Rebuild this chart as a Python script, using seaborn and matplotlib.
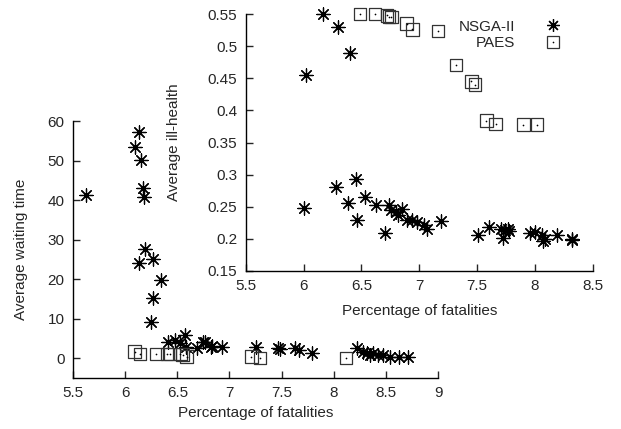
import numpy as np
import pandas as pd
import seaborn as sns
import matplotlib
matplotlib.use("Agg")
from matplotlib import pyplot as plt
from matplotlib.lines import Line2D

# main plot: fatalities vs waiting time
nsga_fat = [5.62, 6.13, 6.09, 6.15, 6.17, 6.18, 6.19, 6.13, 6.27, 6.34, 6.27, 6.25,
            6.41, 6.48, 6.53, 6.57, 6.58, 6.69, 6.77, 6.82, 6.93, 6.75, 6.83,
            7.25, 7.47, 7.48, 7.63, 7.67, 7.79, 8.22, 8.28, 8.32, 8.35, 8.38,
            8.42, 8.47, 8.54, 8.63, 8.71]
nsga_wait = [41.3, 57.1, 53.5, 50.1, 43.0, 40.9, 27.6, 24.0, 25.0, 19.8, 15.2, 9.2,
             4.2, 4.6, 3.9, 5.9, 2.9, 2.5, 4.2, 2.9, 2.9, 4.2, 3.1,
             2.9, 2.5, 2.3, 2.5, 2.1, 1.3, 2.7, 1.7, 1.3, 0.9, 1.3,
             0.7, 0.7, 0.4, 0.4, 0.4]
paes_fat = [6.09, 6.14, 6.30, 6.40, 6.43, 6.53, 6.55, 6.59, 7.21, 7.29, 8.12]
paes_wait = [1.7, 1.1, 1.1, 1.1, 1.1, 1.1, 0.9, 0.4, 0.4, 0.0, 0.0]

# inset: fatalities vs ill-health
nsga_fat2 = [6.17, 6.30, 6.40, 6.02, 6.00, 6.28, 6.45, 6.38, 6.53, 6.46, 6.70,
             6.63, 6.74, 6.76, 6.80, 6.85, 6.82, 6.89, 6.94, 6.98, 7.04, 7.07,
             7.19, 7.51, 7.60, 7.71, 7.72, 7.74, 7.77, 7.78, 7.96, 8.00, 8.06,
             8.07, 8.09, 8.19, 8.32, 8.32]
nsga_ill = [0.550, 0.530, 0.490, 0.455, 0.248, 0.280, 0.293, 0.256, 0.265, 0.230, 0.209,
            0.253, 0.253, 0.245, 0.242, 0.246, 0.237, 0.230, 0.230, 0.227, 0.222, 0.216,
            0.228, 0.206, 0.218, 0.216, 0.202, 0.214, 0.216, 0.212, 0.209, 0.210, 0.206,
            0.196, 0.200, 0.206, 0.199, 0.200]
paes_fat2 = [6.49, 6.62, 6.72, 6.74, 6.76, 6.89, 6.94, 7.16, 7.32, 7.45, 7.48,
             7.58, 7.66, 7.90, 8.02]
paes_ill = [0.550, 0.550, 0.548, 0.546, 0.545, 0.535, 0.526, 0.524, 0.471, 0.445, 0.440,
            0.384, 0.379, 0.378, 0.378]

sns.set_style("ticks")
plt.rcParams["font.family"] = ["Liberation Sans", "DejaVu Sans"]
plt.rcParams["font.size"] = 11

star = (8, 2, 0)


def draw(ax, xn, yn, xp, yp):
    sns.scatterplot(x=xn, y=yn, ax=ax, marker=star, s=90, color="black",
                    linewidth=0.9, zorder=3, clip_on=False)
    sns.scatterplot(x=xp, y=yp, ax=ax, marker="s", s=80, facecolors="none",
                    edgecolors="#333333", linewidth=0.9, zorder=3, clip_on=False)
    sns.scatterplot(x=xp, y=yp, ax=ax, marker="o", s=1.5, color="black",
                    linewidth=0, zorder=4, clip_on=False)
    ax.tick_params(direction="in", length=5, width=1, pad=6, labelsize=11)
    for side in ["left", "bottom"]:
        ax.spines[side].set_linewidth(1)
        ax.spines[side].set_color("black")
    sns.despine(ax=ax)


fig = plt.figure(figsize=(6.21, 4.29), dpi=100)

ax = fig.add_axes([0.1176, 0.1189, 0.5878, 0.599])
draw(ax, nsga_fat, nsga_wait, paes_fat, paes_wait)
ax.set_xlim(5.5, 9)
ax.set_ylim(-5, 60)
ax.set_xticks(np.arange(5.5, 9.01, 0.5))
ax.set_xticklabels(["5.5", "6", "6.5", "7", "7.5", "8", "8.5", "9"])
ax.set_yticks(range(0, 61, 10))
ax.set_xlabel("Percentage of fatalities", fontsize=11, labelpad=4)
ax.set_ylabel("Average waiting time", fontsize=11, labelpad=14)

ins = fig.add_axes([0.3957, 0.3683, 0.5588, 0.599])
draw(ins, nsga_fat2, nsga_ill, paes_fat2, paes_ill)
ins.set_xlim(5.5, 8.5)
ins.set_ylim(0.15, 0.55)
ins.set_xticks(np.arange(5.5, 8.51, 0.5))
ins.set_xticklabels(["5.5", "6", "6.5", "7", "7.5", "8", "8.5"])
ins.set_yticks(np.arange(0.15, 0.551, 0.05))
ins.set_yticklabels(["0.15", "0.2", "0.25", "0.3", "0.35", "0.4", "0.45", "0.5", "0.55"])
ins.set_xlabel("Percentage of fatalities", fontsize=11, labelpad=8)
ins.set_ylabel("Average ill-health", fontsize=11, labelpad=19)

h_nsga = Line2D([], [], ls="none", marker=star, ms=9, color="black", mew=0.9)
h_sq = Line2D([], [], ls="none", marker="s", ms=8.5, mfc="none", mec="#333333", mew=0.9)
h_dot = Line2D([], [], ls="none", marker="o", ms=1.2, color="black", mew=0)
ins.legend([h_nsga, (h_sq, h_dot)], ["NSGA-II", "PAES"], loc="upper right",
           bbox_to_anchor=(0.935, 1.008), frameon=False, markerfirst=False,
           handlelength=1.2, handletextpad=1.9, borderpad=0, labelspacing=0.15,
           fontsize=11)

fig.savefig("out.png", dpi=100)
